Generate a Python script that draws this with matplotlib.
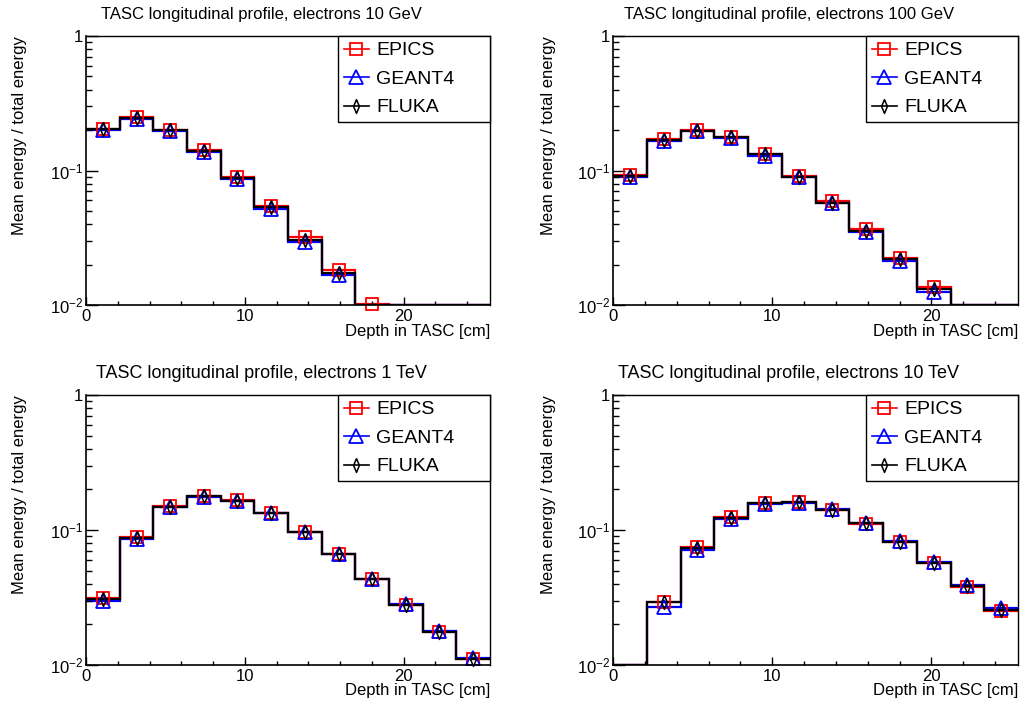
import numpy as np
import matplotlib
matplotlib.use("Agg")
import matplotlib.pyplot as plt
from matplotlib.lines import Line2D
from matplotlib.ticker import FixedLocator, LogLocator, NullFormatter

plt.rcParams["font.family"] = ["Liberation Sans", "DejaVu Sans"]
plt.rcParams["mathtext.fontset"] = "custom"
plt.rcParams["mathtext.rm"] = "Liberation Sans"
plt.rcParams["mathtext.it"] = "Liberation Sans:italic"
plt.rcParams["mathtext.bf"] = "Liberation Sans:bold"

# TASC layer boundaries along the shower axis [cm]
depth_edges = [0.0, 2.12, 4.24, 6.36, 8.48, 10.60, 12.72,
               14.84, 16.96, 19.08, 21.20, 23.32, 25.44]

series_names = ["EPICS", "GEANT4", "FLUKA"]

titles = ["TASC longitudinal profile, electrons 10 GeV",
          "TASC longitudinal profile, electrons 100 GeV",
          "TASC longitudinal profile, electrons 1 TeV",
          "TASC longitudinal profile, electrons 10 TeV"]

# mean energy fraction per layer (0 = below the plotted range)
epics_10gev = [0.203, 0.249, 0.201, 0.142, 0.089, 0.0545, 0.0318, 0.0182, 0.0101, 0, 0, 0]
geant4_10gev = [0.199, 0.241, 0.197, 0.138, 0.086, 0.0520, 0.0296, 0.0168, 0, 0, 0, 0]
fluka_10gev = [0.203, 0.244, 0.200, 0.140, 0.0875, 0.0532, 0.0304, 0.0172, 0, 0, 0, 0]

epics_100gev = [0.092, 0.172, 0.200, 0.178, 0.133, 0.091, 0.0590, 0.0366, 0.0224, 0.0136, 0, 0]
geant4_100gev = [0.090, 0.167, 0.195, 0.173, 0.129, 0.089, 0.0570, 0.0350, 0.0211, 0.0126, 0, 0]
fluka_100gev = [0.0912, 0.170, 0.198, 0.176, 0.132, 0.090, 0.0578, 0.0357, 0.0219, 0.0131, 0, 0]

epics_1tev = [0.0315, 0.0885, 0.151, 0.180, 0.166, 0.1345, 0.0970, 0.0665, 0.0432, 0.0278, 0.0176, 0.0111]
geant4_1tev = [0.0300, 0.0860, 0.147, 0.176, 0.163, 0.1330, 0.0960, 0.0665, 0.0436, 0.0282, 0.0178, 0.0112]
fluka_1tev = [0.0307, 0.0878, 0.149, 0.179, 0.165, 0.1346, 0.0964, 0.0665, 0.0431, 0.0278, 0.0175, 0.0111]

epics_10tev = [0, 0.0293, 0.0745, 0.1245, 0.158, 0.161, 0.1405, 0.111, 0.0812, 0.0565, 0.0380, 0.0250]
geant4_10tev = [0, 0.0270, 0.0708, 0.1200, 0.155, 0.159, 0.142, 0.113, 0.0830, 0.0583, 0.0393, 0.0263]
fluka_10tev = [0, 0.0291, 0.0741, 0.1236, 0.158, 0.160, 0.141, 0.112, 0.0820, 0.0573, 0.0385, 0.0255]

panels = [
    (epics_10gev, geant4_10gev, fluka_10gev),
    (epics_100gev, geant4_100gev, fluka_100gev),
    (epics_1tev, geant4_1tev, fluka_1tev),
    (epics_10tev, geant4_10tev, fluka_10tev),
]

# slim open diamond, as used for the FLUKA points
thin_diamond = [(0, 1), (0.42, 0), (0, -1), (-0.42, 0), (0, 1)]

styles = [
    dict(color="#ff0000", marker="s", ms=9.0, mew=1.3),
    dict(color="#0000ff", marker="^", ms=9.5, mew=1.3),
    dict(color="#000000", marker=thin_diamond, ms=10.0, mew=1.1),
]

W, H = 1026, 707
YMIN, YMAX = 0.01, 1.0

# axes boxes in pixels: left, top, right, bottom
boxes = [(86, 36, 490, 305), (613, 36, 1018, 305),
         (86, 395, 490, 665), (613, 395, 1018, 665)]
title_pos = [(261, 15, 12), (789, 15, 12), (261, 373, 13), (789, 373, 13)]
ylabel_x = [20, 549, 20, 549]

fig = plt.figure(figsize=(W / 100, H / 100), dpi=100)
edges = np.array(depth_edges)
centers = 0.5 * (edges[:-1] + edges[1:])

for i, (vals, box) in enumerate(zip(panels, boxes)):
    l, t, r, b = box
    ax = fig.add_axes([l / W, 1 - b / H, (r - l) / W, (b - t) / H])
    ax.set_yscale("log")
    ax.set_xlim(edges[0], edges[-1])
    ax.set_ylim(YMIN, YMAX)

    for name, v, st in zip(series_names, vals, styles):
        v = np.array(v, dtype=float)
        ax.stairs(np.maximum(v, YMIN), edges, baseline=None,
                  color=st["color"], lw=1.6)
        m = v > 0
        ax.plot(centers[m], v[m], ls="none", marker=st["marker"],
                ms=st["ms"], mew=st["mew"], mfc="none", mec=st["color"],
                clip_on=False)

    # axis styling
    for s in ["top", "right"]:
        ax.spines[s].set_linewidth(1.0)
    for s in ["left", "bottom"]:
        ax.spines[s].set_linewidth(1.2)
    ax.xaxis.set_major_locator(FixedLocator([0, 10, 20]))
    ax.xaxis.set_minor_locator(FixedLocator([2, 4, 6, 8, 12, 14, 16, 18, 22, 24]))
    ax.set_xticklabels(["0", "10", "20"])
    ax.yaxis.set_major_locator(FixedLocator([0.01, 0.1, 1]))
    ax.set_yticklabels([r"$10^{-2}$", r"$10^{-1}$", "1"])
    ax.yaxis.set_minor_locator(LogLocator(base=10, subs=np.arange(2, 10)))
    ax.yaxis.set_minor_formatter(NullFormatter())
    ax.tick_params(axis="both", which="both", direction="in",
                   top=False, right=False, labelsize=12, width=1.0)
    ax.tick_params(axis="x", which="major", length=6, pad=3)
    ax.tick_params(axis="x", which="minor", length=3)
    ax.tick_params(axis="y", which="major", length=8.5, pad=2)
    ax.tick_params(axis="y", which="minor", length=4.5)

    # legend in the upper right corner
    handles = [Line2D([0], [0], color=st["color"], lw=1.2, marker=st["marker"],
                      ms=st["ms"], mew=st["mew"], mfc="none", mec=st["color"])
               for st in styles]
    lw_frac = 152 / (r - l)
    lh_frac = 87 / (b - t)
    leg = ax.legend(handles, series_names, loc="upper left",
                    bbox_to_anchor=(1 - lw_frac, 1 - lh_frac, lw_frac, lh_frac),
                    mode="expand", borderaxespad=0, fontsize=14,
                    handlelength=1.3, handletextpad=0.35, borderpad=0.3,
                    labelspacing=0.56, fancybox=False, framealpha=1,
                    edgecolor="black")
    leg.get_frame().set_linewidth(1.0)

    tx, ty, tfs = title_pos[i]
    fig.text(tx / W, 1 - ty / H, titles[i], ha="center", va="center", fontsize=tfs)
    fig.text(r / W, 1 - (b + 26) / H, "Depth in TASC [cm]", ha="right",
             va="center", fontsize=12)
    fig.text(ylabel_x[i] / W, 1 - t / H, "Mean energy / total energy",
             rotation=90, ha="center", va="top", fontsize=12)

fig.savefig("out.png", dpi=100, facecolor="white")
